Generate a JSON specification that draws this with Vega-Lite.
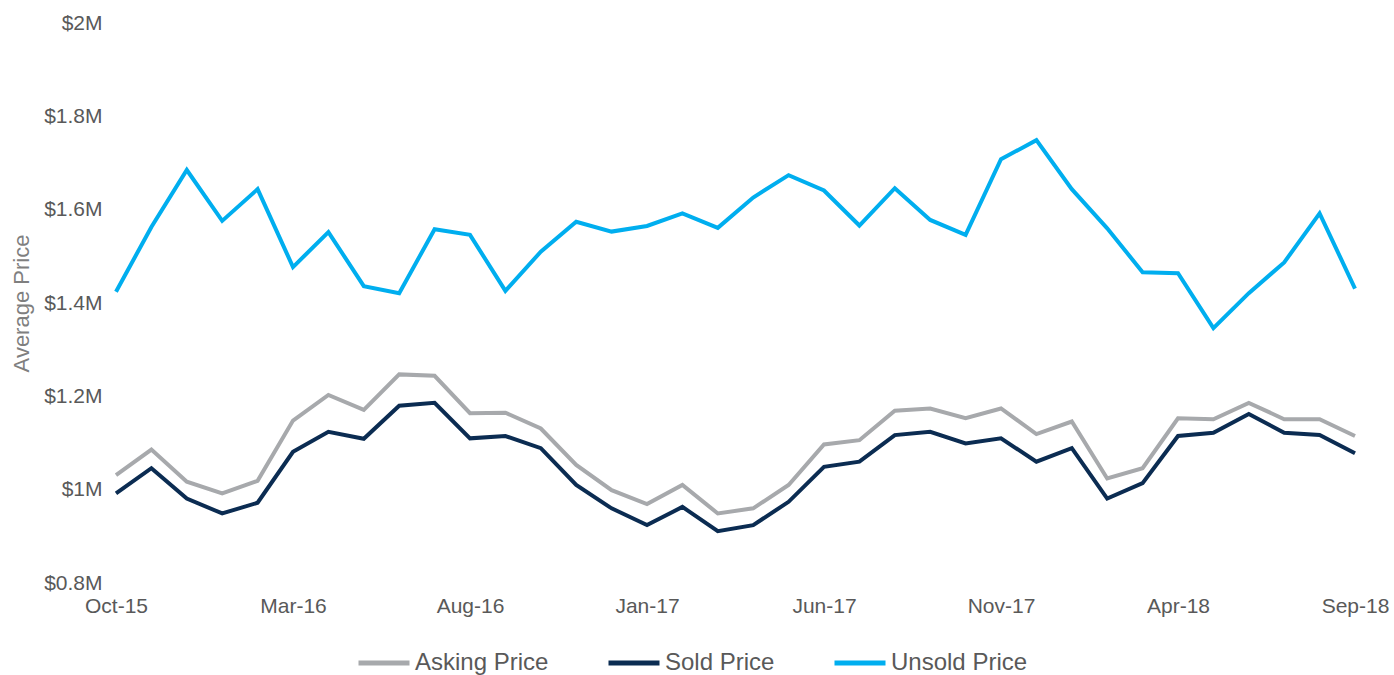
{
  "$schema": "https://vega.github.io/schema/vega-lite/v6.json",
  "width": 1239,
  "height": 560,
  "autosize": {"type": "none"},
  "padding": {"left": 116, "top": 23, "right": 39, "bottom": 92},
  "background": "white",
  "config": {
    "view": {"stroke": null},
    "font": "Liberation Sans"
  },
  "data": {
    "values": [
      {"month": "Oct-15", "series": "Asking Price", "price": 1.031},
      {"month": "Nov-15", "series": "Asking Price", "price": 1.086},
      {"month": "Dec-15", "series": "Asking Price", "price": 1.017},
      {"month": "Jan-16", "series": "Asking Price", "price": 0.992},
      {"month": "Feb-16", "series": "Asking Price", "price": 1.019},
      {"month": "Mar-16", "series": "Asking Price", "price": 1.148},
      {"month": "Apr-16", "series": "Asking Price", "price": 1.203},
      {"month": "May-16", "series": "Asking Price", "price": 1.171},
      {"month": "Jun-16", "series": "Asking Price", "price": 1.247},
      {"month": "Jul-16", "series": "Asking Price", "price": 1.244},
      {"month": "Aug-16", "series": "Asking Price", "price": 1.164},
      {"month": "Sep-16", "series": "Asking Price", "price": 1.165},
      {"month": "Oct-16", "series": "Asking Price", "price": 1.131},
      {"month": "Nov-16", "series": "Asking Price", "price": 1.053},
      {"month": "Dec-16", "series": "Asking Price", "price": 0.999},
      {"month": "Jan-17", "series": "Asking Price", "price": 0.969},
      {"month": "Feb-17", "series": "Asking Price", "price": 1.010},
      {"month": "Mar-17", "series": "Asking Price", "price": 0.949},
      {"month": "Apr-17", "series": "Asking Price", "price": 0.960},
      {"month": "May-17", "series": "Asking Price", "price": 1.010},
      {"month": "Jun-17", "series": "Asking Price", "price": 1.097},
      {"month": "Jul-17", "series": "Asking Price", "price": 1.106},
      {"month": "Aug-17", "series": "Asking Price", "price": 1.169},
      {"month": "Sep-17", "series": "Asking Price", "price": 1.174},
      {"month": "Oct-17", "series": "Asking Price", "price": 1.153},
      {"month": "Nov-17", "series": "Asking Price", "price": 1.174},
      {"month": "Dec-17", "series": "Asking Price", "price": 1.119},
      {"month": "Jan-18", "series": "Asking Price", "price": 1.146},
      {"month": "Feb-18", "series": "Asking Price", "price": 1.024},
      {"month": "Mar-18", "series": "Asking Price", "price": 1.046},
      {"month": "Apr-18", "series": "Asking Price", "price": 1.153},
      {"month": "May-18", "series": "Asking Price", "price": 1.151},
      {"month": "Jun-18", "series": "Asking Price", "price": 1.186},
      {"month": "Jul-18", "series": "Asking Price", "price": 1.151},
      {"month": "Aug-18", "series": "Asking Price", "price": 1.151},
      {"month": "Sep-18", "series": "Asking Price", "price": 1.115},
      {"month": "Oct-15", "series": "Sold Price", "price": 0.992},
      {"month": "Nov-15", "series": "Sold Price", "price": 1.046},
      {"month": "Dec-15", "series": "Sold Price", "price": 0.981},
      {"month": "Jan-16", "series": "Sold Price", "price": 0.949},
      {"month": "Feb-16", "series": "Sold Price", "price": 0.972},
      {"month": "Mar-16", "series": "Sold Price", "price": 1.081},
      {"month": "Apr-16", "series": "Sold Price", "price": 1.124},
      {"month": "May-16", "series": "Sold Price", "price": 1.109},
      {"month": "Jun-16", "series": "Sold Price", "price": 1.180},
      {"month": "Jul-16", "series": "Sold Price", "price": 1.186},
      {"month": "Aug-16", "series": "Sold Price", "price": 1.110},
      {"month": "Sep-16", "series": "Sold Price", "price": 1.115},
      {"month": "Oct-16", "series": "Sold Price", "price": 1.089},
      {"month": "Nov-16", "series": "Sold Price", "price": 1.010},
      {"month": "Dec-16", "series": "Sold Price", "price": 0.960},
      {"month": "Jan-17", "series": "Sold Price", "price": 0.924},
      {"month": "Feb-17", "series": "Sold Price", "price": 0.963},
      {"month": "Mar-17", "series": "Sold Price", "price": 0.911},
      {"month": "Apr-17", "series": "Sold Price", "price": 0.924},
      {"month": "May-17", "series": "Sold Price", "price": 0.974},
      {"month": "Jun-17", "series": "Sold Price", "price": 1.049},
      {"month": "Jul-17", "series": "Sold Price", "price": 1.060},
      {"month": "Aug-17", "series": "Sold Price", "price": 1.117},
      {"month": "Sep-17", "series": "Sold Price", "price": 1.124},
      {"month": "Oct-17", "series": "Sold Price", "price": 1.099},
      {"month": "Nov-17", "series": "Sold Price", "price": 1.110},
      {"month": "Dec-17", "series": "Sold Price", "price": 1.060},
      {"month": "Jan-18", "series": "Sold Price", "price": 1.089},
      {"month": "Feb-18", "series": "Sold Price", "price": 0.981},
      {"month": "Mar-18", "series": "Sold Price", "price": 1.014},
      {"month": "Apr-18", "series": "Sold Price", "price": 1.115},
      {"month": "May-18", "series": "Sold Price", "price": 1.122},
      {"month": "Jun-18", "series": "Sold Price", "price": 1.162},
      {"month": "Jul-18", "series": "Sold Price", "price": 1.122},
      {"month": "Aug-18", "series": "Sold Price", "price": 1.117},
      {"month": "Sep-18", "series": "Sold Price", "price": 1.078},
      {"month": "Oct-15", "series": "Unsold Price", "price": 1.424},
      {"month": "Nov-15", "series": "Unsold Price", "price": 1.563},
      {"month": "Dec-15", "series": "Unsold Price", "price": 1.685},
      {"month": "Jan-16", "series": "Unsold Price", "price": 1.576},
      {"month": "Feb-16", "series": "Unsold Price", "price": 1.644},
      {"month": "Mar-16", "series": "Unsold Price", "price": 1.477},
      {"month": "Apr-16", "series": "Unsold Price", "price": 1.552},
      {"month": "May-16", "series": "Unsold Price", "price": 1.436},
      {"month": "Jun-16", "series": "Unsold Price", "price": 1.421},
      {"month": "Jul-16", "series": "Unsold Price", "price": 1.558},
      {"month": "Aug-16", "series": "Unsold Price", "price": 1.546},
      {"month": "Sep-16", "series": "Unsold Price", "price": 1.426},
      {"month": "Oct-16", "series": "Unsold Price", "price": 1.510},
      {"month": "Nov-16", "series": "Unsold Price", "price": 1.574},
      {"month": "Dec-16", "series": "Unsold Price", "price": 1.553},
      {"month": "Jan-17", "series": "Unsold Price", "price": 1.565},
      {"month": "Feb-17", "series": "Unsold Price", "price": 1.592},
      {"month": "Mar-17", "series": "Unsold Price", "price": 1.561},
      {"month": "Apr-17", "series": "Unsold Price", "price": 1.626},
      {"month": "May-17", "series": "Unsold Price", "price": 1.674},
      {"month": "Jun-17", "series": "Unsold Price", "price": 1.641},
      {"month": "Jul-17", "series": "Unsold Price", "price": 1.566},
      {"month": "Aug-17", "series": "Unsold Price", "price": 1.646},
      {"month": "Sep-17", "series": "Unsold Price", "price": 1.578},
      {"month": "Oct-17", "series": "Unsold Price", "price": 1.546},
      {"month": "Nov-17", "series": "Unsold Price", "price": 1.708},
      {"month": "Dec-17", "series": "Unsold Price", "price": 1.749},
      {"month": "Jan-18", "series": "Unsold Price", "price": 1.644},
      {"month": "Feb-18", "series": "Unsold Price", "price": 1.560},
      {"month": "Mar-18", "series": "Unsold Price", "price": 1.466},
      {"month": "Apr-18", "series": "Unsold Price", "price": 1.464},
      {"month": "May-18", "series": "Unsold Price", "price": 1.346},
      {"month": "Jun-18", "series": "Unsold Price", "price": 1.421},
      {"month": "Jul-18", "series": "Unsold Price", "price": 1.487},
      {"month": "Aug-18", "series": "Unsold Price", "price": 1.592},
      {"month": "Sep-18", "series": "Unsold Price", "price": 1.431}
    ]
  },
  "mark": {"type": "line", "strokeWidth": 4, "strokeJoin": "miter", "strokeCap": "butt"},
  "encoding": {
    "x": {
      "field": "month",
      "type": "ordinal",
      "sort": null,
      "scale": {"type": "point", "padding": 0},
      "axis": {
        "title": null,
        "values": ["Oct-15", "Mar-16", "Aug-16", "Jan-17", "Jun-17", "Nov-17", "Apr-18", "Sep-18"],
        "labelAngle": 0,
        "domain": false,
        "ticks": false,
        "grid": false,
        "labelFont": "Liberation Sans",
        "labelFontSize": 21,
        "labelColor": "#595959",
        "labelPadding": 12,
        "labelOverlap": false,
        "labelFlush": false
      }
    },
    "y": {
      "field": "price",
      "type": "quantitative",
      "scale": {"domain": [0.8, 2.0], "nice": false, "zero": false},
      "axis": {
        "title": "Average Price",
        "titleFont": "Liberation Sans",
        "titleFontSize": 22,
        "titleFontWeight": "normal",
        "titleColor": "#7f7f7f",
        "titlePadding": 10,
        "values": [0.8, 1, 1.2, 1.4, 1.6, 1.8, 2],
        "labelExpr": "'$' + datum.value + 'M'",
        "domain": false,
        "ticks": false,
        "grid": false,
        "labelFont": "Liberation Sans",
        "labelFontSize": 21,
        "labelColor": "#595959",
        "labelPadding": 14
      }
    },
    "color": {
      "field": "series",
      "type": "nominal",
      "scale": {
        "domain": ["Asking Price", "Sold Price", "Unsold Price"],
        "range": ["#a7a9ac", "#0b2c52", "#00aeef"]
      },
      "legend": {
        "title": null,
        "orient": "none",
        "direction": "horizontal",
        "legendX": 240,
        "legendY": 612,
        "symbolType": "stroke",
        "symbolSize": 2601,
        "symbolStrokeWidth": 5,
        "labelFont": "Liberation Sans",
        "labelFontSize": 24,
        "labelColor": "#595959",
        "labelOffset": 3,
        "columnPadding": 49
      }
    }
  }
}
